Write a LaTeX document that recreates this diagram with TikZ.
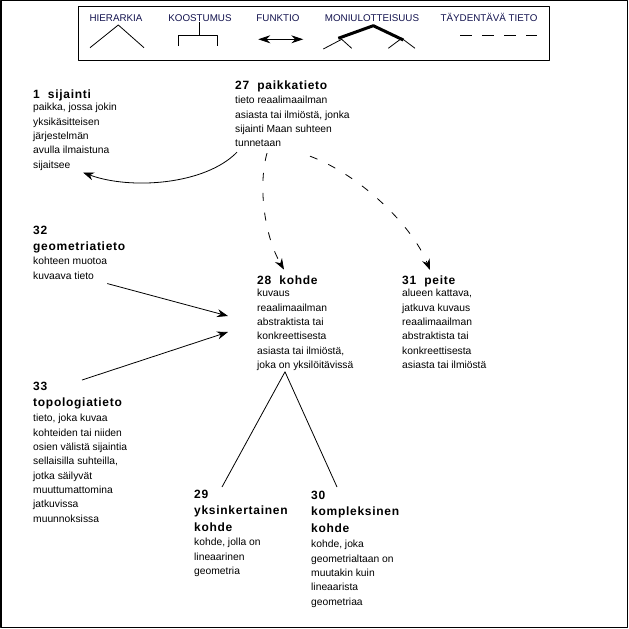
\documentclass[tikz,border=0pt]{standalone}
\usepackage{fontspec}
\setmainfont{Liberation Sans}
\newfontfamily\ttlfont[LetterSpace=6]{Liberation Sans}
\usetikzlibrary{arrows.meta}
\definecolor{legendblue}{RGB}{18,18,78}
\tikzset{
  every picture/.style={line join=round, >=Stealth},
  ttl/.style={anchor=north west, inner sep=0pt, align=left,
    font=\fontsize{12}{16.5}\selectfont\ttlfont\bfseries},
  body/.style={anchor=north west, inner sep=0pt, align=left,
    font=\fontsize{10.3}{14.3}\selectfont},
  leglabel/.style={anchor=base, inner sep=0pt, text=legendblue,
    font=\fontsize{9.8}{12}\selectfont},
  conn/.style={line width=0.8pt},
  arr/.style={conn, -{Stealth[length=11pt,width=8pt]}},
  extra/.style={conn, dash pattern=on 8pt off 12pt, -{Stealth[length=11pt,width=8pt]}},
}
\begin{document}
\begin{tikzpicture}[x=1pt,y=1pt]
\useasboundingbox (0,0) rectangle (629,-629);
\draw[line width=1.3pt] (1,-0.8) rectangle (627.5,-627.5);
% legend
\draw[line width=1pt] (78,-6) rectangle (549,-60);
\node[leglabel] (lh) at (116,-21.5) {HIERARKIA};
\node[leglabel] (lk) at (200,-21.5) {KOOSTUMUS};
\node[leglabel] (lf) at (278,-21.5) {FUNKTIO};
\node[leglabel] (lm) at (372,-21.5) {MONIULOTTEISUUS};
\node[leglabel] (lt) at (489,-21.5) {TÄYDENTÄVÄ TIETO};
\draw[conn] (90,-47.7)--(118.3,-25)--(144,-47.7);
\draw[conn] (199,-22)--(199,-35)
(178.3,-46)--(178.3,-35)--(217.3,-35)--(217.3,-46);
\draw[conn, {Stealth[length=12pt,width=8pt]}-{Stealth[length=12pt,width=8pt]}] (258.3,-39.3)--(303.3,-39.3);
\draw[line width=3pt] (338.3,-38.3)--(373.3,-25.7)--(403.3,-40);
\draw[conn] (323.3,-49)--(341.7,-39.3)--(351.7,-48.3)
(388.3,-48.3)--(401.7,-38.3)--(415,-48.3);
\draw[conn, dash pattern=on 12pt off 10pt] (460,-35)--(537,-35);
% concepts
\node[ttl] (t1) at (33,-89.6) {1\ \ sijainti};
\node[body] (b1) at (33,-103.3) {paikka, jossa jokin\\yksikäsitteisen\\järjestelmän\\avulla ilmaistuna\\sijaitsee};
\node[ttl] (t27) at (235,-80.6) {27\ \ paikkatieto};
\node[body] (b27) at (235,-96.3) {tieto reaalimaailman\\asiasta tai ilmiöstä, jonka\\sijainti Maan suhteen\\tunnetaan};
\node[ttl] (t32) at (33,-225.6) {32\\geometriatieto};
\node[body] (b32) at (33,-257.3) {kohteen muotoa\\kuvaava tieto};
\node[ttl] (t28) at (257,-275.6) {28\ \ kohde};
\node[body] (b28) at (257,-289.3) {kuvaus\\reaalimaailman\\abstraktista tai\\konkreettisesta\\asiasta tai ilmiöstä,\\joka on yksilöitävissä};
\node[ttl] (t31) at (402,-275.6) {31\ \ peite};
\node[body] (b31) at (402,-289.3) {alueen kattava,\\jatkuva kuvaus\\reaalimaailman\\abstraktista tai\\konkreettisesta\\asiasta tai ilmiöstä};
\node[ttl] (t33) at (33,-381.6) {33\\topologiatieto};
\node[body] (b33) at (33,-414.3) {tieto, joka kuvaa\\kohteiden tai niiden\\osien välistä sijaintia\\sellaisilla suhteilla,\\jotka säilyvät\\muuttumattomina\\jatkuvissa\\muunnoksissa};
\node[ttl] (t29) at (194,-489.6) {29\\yksinkertainen\\kohde};
\node[body] (b29) at (194,-538.3) {kohde, jolla on\\lineaarinen\\geometria};
\node[ttl] (t30) at (311,-490.6) {30\\kompleksinen\\kohde};
\node[body] (b30) at (311,-540.3) {kohde, joka\\geometrialtaan on\\muutakin kuin\\lineaarista\\geometriaa};
% connectors
\draw[arr] ([xshift=2pt,yshift=-5pt]b27.south west) .. controls (205,-185) and (130,-190) .. ([xshift=50pt,yshift=-2pt]b1.south west);
\draw[extra] ([xshift=32pt,yshift=-6pt]b27.south west) .. controls (258,-185) and (264,-235) .. ([xshift=27pt,yshift=6pt]t28.north west);
\draw[extra] ([xshift=75pt,yshift=-9pt]b27.south west) .. controls (360,-175) and (412,-225) .. ([xshift=28pt,yshift=5.6pt]t31.north west);
\draw[arr] ([yshift=-4pt]b32.south east) -- ([xshift=-29pt,yshift=-26.7pt]b28.north west);
\draw[arr] ([xshift=49pt,yshift=1.6pt]t33.north west) -- ([xshift=-29pt,yshift=-42.7pt]b28.north west);
\draw[conn] ([xshift=28pt,yshift=2.6pt]t29.north west) -- ([xshift=28pt,yshift=-1pt]b28.south west) -- ([xshift=26pt,yshift=3.6pt]t30.north west);
\end{tikzpicture}
\end{document}
